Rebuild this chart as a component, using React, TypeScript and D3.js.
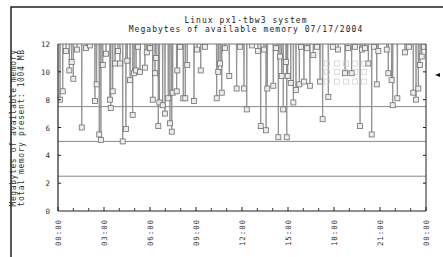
import React from "react";
import * as d3 from "d3";

const titleLines = ["Linux px1-tbw3 system", "Megabytes of available memory 07/17/2004"];
const yTitleLines = ["Megabytes of available memory", "total memory present: 1004 MB"];
const xTickHours = [0, 3, 6, 9, 12, 15, 18, 21, 24];
const xTickLabels = ["00:00", "03:00", "06:00", "09:00", "12:00", "15:00", "18:00", "21:00", "00:00"];
const xMinorHours = [1, 2, 4, 5, 7, 8, 10, 11, 13, 14, 16, 17, 19, 20, 22, 23];
const yTicks = [0, 2, 4, 6, 8, 10, 12];
const gridValues = [2.5, 5, 7.5];

// sampled dips of available memory (hour of day, MB)
const sampleHours = [
  0.13, 0.31, 0.52, 0.74, 0.89, 1.0, 1.24, 1.55, 1.83, 2.09, 2.41, 2.52, 2.69, 2.8, 2.92,
  3.13, 3.39, 3.44, 3.57, 3.72, 3.91, 4.04, 4.22, 4.43, 4.52, 4.7, 4.87, 4.96, 5.09, 5.22,
  5.35, 5.67, 5.79, 6.0, 6.18, 6.33, 6.39, 6.54, 6.61, 6.83, 6.98, 7.19, 7.3, 7.42, 7.48,
  7.74, 7.78, 7.96, 8.17, 8.3, 8.43, 8.87, 9.07, 9.31, 9.59, 10.35, 10.45, 10.57, 10.68,
  10.89, 11.17, 11.65, 11.87, 12.13, 12.31, 12.65, 13.04, 13.22, 13.43, 13.57, 13.65,
  14.04, 14.22, 14.37, 14.48, 14.59, 14.69, 14.87, 14.92, 14.98, 15.18, 15.35, 15.52,
  15.74, 15.85, 16.04, 16.24, 16.43, 16.65, 16.89, 17.09, 17.26, 17.63, 17.93, 18.26,
  18.72, 18.91, 19.15, 19.37, 19.7, 19.83, 20.02, 20.24, 20.46, 20.61, 20.79, 20.89,
  21.44, 21.54, 21.76, 21.83, 22.13, 22.63, 22.89, 23.17, 23.35, 23.5, 23.61, 23.72, 23.87,
];
const sampleMB = [
  8.0, 8.6, 11.5, 10.1, 10.7, 9.5, 11.6, 6.0, 11.7, 11.9, 7.9, 9.1, 5.5, 5.1, 10.5,
  11.3, 8.0, 7.4, 8.6, 10.6, 11.5, 10.6, 5.0, 5.9, 10.8, 9.4, 6.9, 9.9, 10.1, 11.8,
  10.0, 10.3, 11.4, 11.7, 8.0, 9.9, 11.0, 6.1, 7.8, 7.6, 7.0, 8.1, 6.3, 5.7, 8.5,
  8.6, 10.1, 11.8, 8.1, 8.1, 10.5, 7.9, 11.6, 10.1, 11.8, 8.1, 10.0, 10.6, 8.5,
  11.7, 9.7, 8.8, 11.8, 8.8, 7.3, 11.9, 11.5, 6.1, 11.6, 5.8, 8.8,
  9.0, 11.7, 5.3, 11.1, 9.7, 7.3, 10.7, 5.3, 9.7, 9.2, 7.8, 8.7,
  9.1, 11.8, 9.3, 11.7, 9.0, 11.2, 11.8, 9.3, 6.6, 8.2, 11.8, 11.6,
  9.9, 11.7, 9.9, 11.8, 6.1, 11.6, 11.7, 10.6, 5.5, 11.8, 9.1, 11.5,
  11.6, 9.9, 9.4, 7.6, 8.1, 11.4, 11.8, 8.5, 8.0, 8.8, 10.5, 11.1, 11.8,
];
const peakMB = 12.6;

// faint overprinted squares
const ghostHours = [17.53, 18.18, 18.79, 19.38, 19.97, 17.53, 18.18, 18.79, 19.38, 19.97, 17.53, 18.18, 18.79, 19.38, 19.97];
const ghostMB = [10.6, 10.6, 10.6, 10.6, 10.6, 10.0, 10.0, 10.0, 10.0, 10.0, 9.3, 9.3, 9.3, 9.3, 9.3];

const W = 443;
const H = 257;
const L = 58, R = 426, T = 44, B = 211;
const mono = "'DejaVu Sans Mono', monospace";

export default function App() {
  const x = d3.scaleLinear().domain([0, 24]).range([L, R]);
  const y = d3.scaleLinear().domain([0, 12]).range([B, T]);

  const pts: [number, number][] = [];
  sampleHours.forEach((h, i) => {
    pts.push([h - 0.025, peakMB]);
    pts.push([h, sampleMB[i]]);
    pts.push([h + 0.025, peakMB]);
  });
  const line = d3.line<[number, number]>().x((d) => x(d[0])).y((d) => y(d[1]));

  return (
    <svg width={W} height={H} style={{ position: "absolute", left: 0, top: 0, background: "#fff" }}>
      <rect x={0} y={0} width={W} height={H} fill="#fff" />
      <rect x={11} y={7} width={600} height={600} fill="none" stroke="#111" strokeWidth={1.4} />
      {titleLines.map((t, i) => (
        <text key={i} x={246} y={23 + i * 9} textAnchor="middle" fontFamily={mono} fontSize={8} letterSpacing={1.05} fill="#222">
          {t}
        </text>
      ))}
      {yTitleLines.map((t, i) => (
        <text key={i} transform={`translate(${16 + i * 8},128) rotate(-90)`} textAnchor="middle" fontFamily={mono} fontSize={8} letterSpacing={0.6} fill="#333">
          {t}
        </text>
      ))}
      <defs>
        <clipPath id="plot">
          <rect x={L} y={T} width={R - L} height={B - T} />
        </clipPath>
      </defs>
      {gridValues.map((v) => (
        <line key={v} x1={L} x2={R} y1={y(v)} y2={y(v)} stroke="#8a8a8a" strokeWidth={1} />
      ))}
      <g clipPath="url(#plot)">
        <path d={line(pts) || ""} fill="none" stroke="#8c8c8c" strokeWidth={0.9} />
        {ghostHours.map((h, i) => (
          <rect key={"g" + i} x={x(h) - 2.5} y={y(ghostMB[i]) - 2.5} width={5} height={5} fill="none" stroke="#d2d2d2" strokeWidth={0.8} />
        ))}
        {sampleHours.map((h, i) => (
          <rect key={i} x={x(h) - 2.5} y={y(sampleMB[i]) - 2.5} width={5} height={5} fill="#ececec" stroke="#707070" strokeWidth={0.8} />
        ))}
      </g>
      <line x1={L} x2={R} y1={T} y2={T} stroke="#777" strokeWidth={1} />
      <line x1={L} x2={L} y1={T} y2={B} stroke="#222" strokeWidth={1.2} />
      <line x1={R} x2={R} y1={T} y2={B} stroke="#444" strokeWidth={1.2} />
      <line x1={L} x2={R} y1={B} y2={B} stroke="#222" strokeWidth={1.2} />
      {yTicks.map((v) => (
        <g key={v}>
          <text x={50} y={y(v) + 3} textAnchor="end" fontFamily={mono} fontSize={7.5} fill="#333">
            {v}
          </text>
          {v > 0 && v < 12 && (
            <>
              <line x1={L} x2={L + 3} y1={y(v)} y2={y(v)} stroke="#222" />
              <line x1={R - 3} x2={R} y1={y(v)} y2={y(v)} stroke="#222" />
            </>
          )}
        </g>
      ))}
      {xMinorHours.map((h) => (
        <line key={h} x1={x(h)} x2={x(h)} y1={B} y2={B - 3} stroke="#444" />
      ))}
      {xTickHours.map((h, i) => (
        <g key={i}>
          <line x1={x(h)} x2={x(h)} y1={B} y2={B - 4} stroke="#222" />
          <text transform={`translate(${x(h) + 2.5},219) rotate(-90)`} textAnchor="end" fontFamily={mono} fontSize={7.5} letterSpacing={0.9} fill="#333">
            {xTickLabels[i]}
          </text>
        </g>
      ))}
      <path d="M435,75 L440,73 L440,77 Z" fill="#111" />
    </svg>
  );
}
